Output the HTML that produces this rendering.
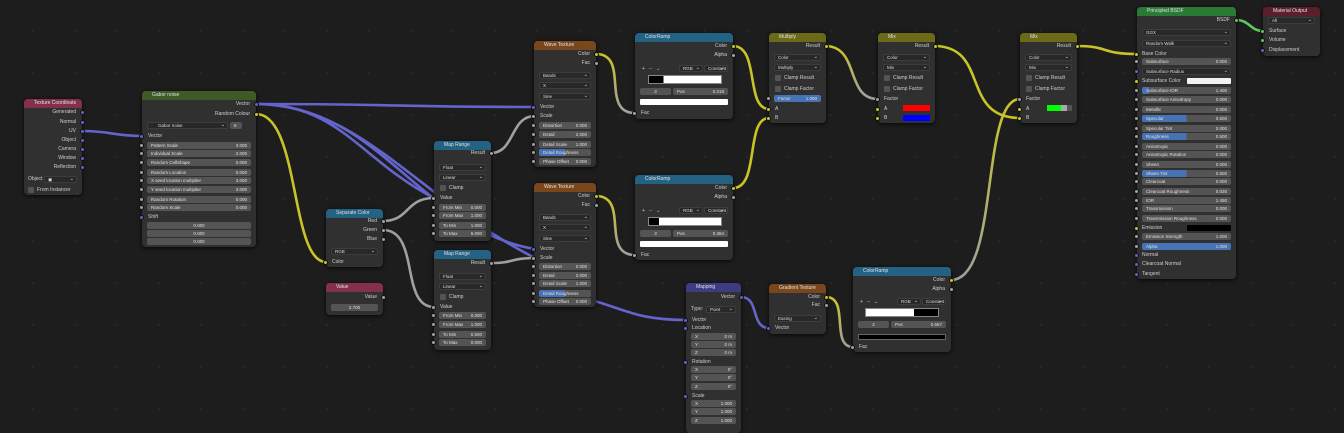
<!DOCTYPE html>
<html><head><meta charset="utf-8"><style>
*{margin:0;padding:0;box-sizing:border-box}
body{width:1344px;height:424px;overflow:hidden;background:#1d1d1d;font-family:"Liberation Sans",sans-serif;position:relative;
background-image:radial-gradient(#262626 1.2px,transparent 1.4px);background-size:42px 42px;background-position:12px 10px}
.n{position:absolute;background:#303030;border-radius:4px;box-shadow:0 1px 5px rgba(0,0,0,.8)}
.h{height:9px;border-radius:4px 4px 0 0;font-size:5px;color:#e0e0e0;padding-left:10px;line-height:9px;white-space:nowrap;overflow:hidden}
.t{position:absolute;font-size:5px;line-height:8px;color:#cfcfcf;white-space:nowrap}
.o{right:6px}.i{left:6px}
.f{position:absolute;left:5px;right:5px;height:7px;background:#545454;border-radius:2px;font-size:4.5px;line-height:7px;color:#e0e0e0;padding:0 4px;white-space:nowrap;overflow:hidden}
.f b{float:right;font-weight:normal}
.d{position:absolute;left:5px;right:5px;height:7px;background:#282828;border:0.5px solid #3d3d3d;border-radius:2px;font-size:4.5px;line-height:6px;color:#ddd;padding:0 3px}
.d:after{content:"⌄";position:absolute;right:2px;top:-1px;font-size:5px}
.c{position:absolute;left:6px;width:6px;height:6px;background:#545454;border-radius:1px}
.s{position:absolute;width:5px;height:5px;border-radius:50%;border:0.6px solid #111}
.g{background:#a1a1a1}.v{background:#6363c7}.y{background:#c7c729}.sh{background:#63c763}
.bl{background:linear-gradient(90deg,#4772b3 50%,#545454 50%)}
.bf{background:#4772b3}
svg{position:absolute;left:0;top:0}
</style></head><body>
<svg width="1344" height="424" fill="none" stroke-width="2.6" stroke-linecap="round">
<g stroke="#6464cc">
<path d="M82 131 C110 131 115 136 142 136"/>
<path d="M256 104 C400 104 400 107 535 107"/>
<path d="M256 104 C340 104 360 160 434 198"/>
<path d="M256 104 C360 104 420 200 535 258"/>
<path d="M256 104 C380 104 420 230 535 249"/>
<path d="M540 290 C620 300 620 320 686 320"/>
<path d="M741 297 C760 297 750 328 769 328"/>
</g>
<g stroke="#c8c428">
<path d="M256 114 C300 114 290 262 326 262"/>
<path d="M733 46 C760 46 745 109 769 109"/>
<path d="M733 188 C760 188 745 118 769 118"/>
<path d="M934 46 C990 46 960 118 1020 118"/>
<path d="M1076 46 C1110 46 1100 54 1137 54"/>
</g>
<defs>
<linearGradient id="yg" x1="0" y1="0" x2="0" y2="1"><stop offset="0" stop-color="#c8c428"/><stop offset="1" stop-color="#a0a0a0"/></linearGradient>
<linearGradient id="yg2" x1="0" y1="1" x2="0" y2="0"><stop offset="0" stop-color="#a0a0a0"/><stop offset="1" stop-color="#c8c428"/></linearGradient>
</defs>
<path stroke="url(#yg)" d="M596 54 C630 54 600 113 635 113"/>
<path stroke="url(#yg)" d="M596 196 C630 196 600 255 635 255"/>
<path stroke="url(#yg)" d="M825 46 C860 46 845 99 878 99"/>
<path stroke="url(#yg)" d="M826 297 C850 297 830 347 853 347"/>
<path stroke="url(#yg2)" d="M951 280 C1000 280 980 99 1020 99"/>
<g stroke="#a0a0a0">
<path d="M383 221 C410 221 405 198 434 198"/>
<path d="M383 230 C420 230 400 307 434 307"/>
<path d="M491 153 C515 153 510 116 535 116"/>
<path d="M491 263 C515 263 510 258 535 258"/>
</g>
<path stroke="#5fc75f" d="M1236 20 C1250 20 1250 31 1263 31"/>
</svg>

<!-- Texture Coordinate -->
<div class="n" style="left:24px;top:99px;width:58px;height:96px">
<div class="h" style="background:#83314a">Texture Coordinate</div>
<div class="t o" style="top:9px">Generated</div><div class="s v" style="right:-3px;top:11px"></div>
<div class="t o" style="top:19px">Normal</div><div class="s v" style="right:-3px;top:21px"></div>
<div class="t o" style="top:28px">UV</div><div class="s v" style="right:-3px;top:30px"></div>
<div class="t o" style="top:37px">Object</div><div class="s v" style="right:-3px;top:39px"></div>
<div class="t o" style="top:46px">Camera</div><div class="s v" style="right:-3px;top:48px"></div>
<div class="t o" style="top:55px">Window</div><div class="s v" style="right:-3px;top:57px"></div>
<div class="t o" style="top:64px">Reflection</div><div class="s v" style="right:-3px;top:66px"></div>
<div class="t i" style="top:76px;left:4px">Object</div><div class="d" style="left:20px;top:77px">▣</div>
<div class="c" style="top:88px;left:4px"></div><div class="t" style="top:87px;left:13px">From Instancer</div>
</div>

<!-- Gabor noise -->
<div class="n" style="left:142px;top:91px;width:114px;height:156px">
<div class="h" style="background:#3d5a27">Gabor noise</div>
<div class="t o" style="top:9px">Vector</div><div class="s v" style="right:-3px;top:11px"></div>
<div class="t o" style="top:19px">Random Colour</div><div class="s y" style="right:-3px;top:21px"></div>
<div class="d" style="top:31px;left:5px;right:28px;padding-left:10px">Gabor noise</div><div class="f" style="top:31px;left:88px;right:14px">6</div>
<div class="t i" style="top:41px">Vector</div><div class="s v" style="left:-3px;top:43px"></div>
<div class="f" style="top:51px">Pattern Scale<b>3.000</b></div><div class="s g" style="left:-3px;top:52px"></div>
<div class="f" style="top:59px">Individual Scale<b>2.000</b></div><div class="s g" style="left:-3px;top:60px"></div>
<div class="f" style="top:68px">Random CellShape<b>0.000</b></div><div class="s g" style="left:-3px;top:69px"></div>
<div class="f" style="top:78px">Random Location<b>0.000</b></div><div class="s g" style="left:-3px;top:79px"></div>
<div class="f" style="top:86px">X seed location multiplier<b>3.000</b></div><div class="s g" style="left:-3px;top:87px"></div>
<div class="f" style="top:95px">Y seed location multiplier<b>3.000</b></div><div class="s g" style="left:-3px;top:96px"></div>
<div class="f" style="top:105px">Random Rotation<b>0.000</b></div><div class="s g" style="left:-3px;top:106px"></div>
<div class="f" style="top:113px">Random Scale<b>0.000</b></div><div class="s g" style="left:-3px;top:114px"></div>
<div class="t i" style="top:122px">Shift</div><div class="s v" style="left:-3px;top:124px"></div>
<div class="f" style="top:131px;text-align:center">0.000</div>
<div class="f" style="top:139px;text-align:center">0.000</div>
<div class="f" style="top:147px;text-align:center">0.000</div>
</div>

<!-- Separate Color -->
<div class="n" style="left:326px;top:209px;width:57px;height:58px">
<div class="h" style="background:#246283">Separate Color</div>
<div class="t o" style="top:8px">Red</div><div class="s g" style="right:-3px;top:10px"></div>
<div class="t o" style="top:17px">Green</div><div class="s g" style="right:-3px;top:19px"></div>
<div class="t o" style="top:26px">Blue</div><div class="s g" style="right:-3px;top:28px"></div>
<div class="d" style="top:39px">RGB</div>
<div class="t i" style="top:49px">Color</div><div class="s y" style="left:-3px;top:51px"></div>
</div>

<!-- Value -->
<div class="n" style="left:326px;top:283px;width:57px;height:32px">
<div class="h" style="background:#83314a">Value</div>
<div class="t o" style="top:10px">Value</div><div class="s g" style="right:-3px;top:12px"></div>
<div class="f" style="top:21px;text-align:center">2.700</div>
</div>

<!-- Map Range 1 -->
<div class="n" style="left:434px;top:141px;width:57px;height:100px">
<div class="h" style="background:#246283">Map Range</div>
<div class="t o" style="top:8px">Result</div><div class="s g" style="right:-3px;top:10px"></div>
<div class="d" style="top:23px">Float</div><div class="d" style="top:33px">Linear</div>
<div class="c" style="top:44px"></div><div class="t" style="top:43px;left:15px">Clamp</div>
<div class="t i" style="top:53px">Value</div><div class="s g" style="left:-3px;top:55px"></div>
<div class="f" style="top:63px">From Min<b>0.000</b></div><div class="s g" style="left:-3px;top:64px"></div>
<div class="f" style="top:71px">From Max<b>1.000</b></div><div class="s g" style="left:-3px;top:72px"></div>
<div class="f" style="top:81px">To Min<b>1.000</b></div><div class="s g" style="left:-3px;top:82px"></div>
<div class="f" style="top:89px">To Max<b>6.000</b></div><div class="s g" style="left:-3px;top:90px"></div>
</div>

<!-- Map Range 2 -->
<div class="n" style="left:434px;top:250px;width:57px;height:100px">
<div class="h" style="background:#246283">Map Range</div>
<div class="t o" style="top:9px">Result</div><div class="s g" style="right:-3px;top:11px"></div>
<div class="d" style="top:23px">Float</div><div class="d" style="top:33px">Linear</div>
<div class="c" style="top:44px"></div><div class="t" style="top:43px;left:15px">Clamp</div>
<div class="t i" style="top:53px">Value</div><div class="s g" style="left:-3px;top:55px"></div>
<div class="f" style="top:62px">From Min<b>0.000</b></div><div class="s g" style="left:-3px;top:63px"></div>
<div class="f" style="top:71px">From Max<b>1.000</b></div><div class="s g" style="left:-3px;top:72px"></div>
<div class="f" style="top:81px">To Min<b>0.500</b></div><div class="s g" style="left:-3px;top:82px"></div>
<div class="f" style="top:89px">To Max<b>0.000</b></div><div class="s g" style="left:-3px;top:90px"></div>
</div>

<!-- Wave Texture 1 -->
<div class="n" style="left:534px;top:41px;width:62px;height:126px">
<div class="h" style="background:#7a461c">Wave Texture</div>
<div class="t o" style="top:9px">Color</div><div class="s y" style="right:-3px;top:11px"></div>
<div class="t o" style="top:18px">Fac</div><div class="s g" style="right:-3px;top:20px"></div>
<div class="d" style="top:31px">Bands</div><div class="d" style="top:41px">X</div><div class="d" style="top:52px">Sine</div>
<div class="t i" style="top:62px">Vector</div><div class="s v" style="left:-3px;top:64px"></div>
<div class="t i" style="top:71px">Scale</div><div class="s g" style="left:-3px;top:73px"></div>
<div class="f" style="top:81px">Distortion<b>0.000</b></div><div class="s g" style="left:-3px;top:82px"></div>
<div class="f" style="top:90px">Detail<b>2.000</b></div><div class="s g" style="left:-3px;top:91px"></div>
<div class="f" style="top:100px">Detail Scale<b>1.000</b></div><div class="s g" style="left:-3px;top:101px"></div>
<div class="f bl" style="top:108px">Detail Roughness<b>0.500</b></div><div class="s g" style="left:-3px;top:109px"></div>
<div class="f" style="top:117px">Phase Offset<b>0.000</b></div><div class="s g" style="left:-3px;top:118px"></div>
</div>

<!-- Wave Texture 2 -->
<div class="n" style="left:534px;top:183px;width:62px;height:124px">
<div class="h" style="background:#7a461c">Wave Texture</div>
<div class="t o" style="top:9px">Color</div><div class="s y" style="right:-3px;top:11px"></div>
<div class="t o" style="top:18px">Fac</div><div class="s g" style="right:-3px;top:20px"></div>
<div class="d" style="top:31px">Bands</div><div class="d" style="top:41px">X</div><div class="d" style="top:52px">Sine</div>
<div class="t i" style="top:62px">Vector</div><div class="s v" style="left:-3px;top:64px"></div>
<div class="t i" style="top:71px">Scale</div><div class="s g" style="left:-3px;top:73px"></div>
<div class="f" style="top:80px">Distortion<b>0.000</b></div><div class="s g" style="left:-3px;top:81px"></div>
<div class="f" style="top:89px">Detail<b>2.000</b></div><div class="s g" style="left:-3px;top:90px"></div>
<div class="f" style="top:97px">Detail Scale<b>1.000</b></div><div class="s g" style="left:-3px;top:98px"></div>
<div class="f bl" style="top:107px">Detail Roughness<b>0.500</b></div><div class="s g" style="left:-3px;top:108px"></div>
<div class="f" style="top:115px">Phase Offset<b>0.000</b></div><div class="s g" style="left:-3px;top:116px"></div>
</div>

<!-- ColorRamp 1 -->
<div class="n" style="left:635px;top:33px;width:98px;height:86px">
<div class="h" style="background:#246283">ColorRamp</div>
<div class="t o" style="top:9px">Color</div><div class="s y" style="right:-3px;top:11px"></div>
<div class="t o" style="top:18px">Alpha</div><div class="s g" style="right:-3px;top:20px"></div>
<div class="t" style="top:32px;left:7px">+ &nbsp; − &nbsp; ⌄</div>
<div class="d" style="top:32px;left:44px;right:30px">RGB</div><div class="d" style="top:32px;left:69px;right:5px">Constant</div>
<div style="position:absolute;left:13px;top:42px;width:74px;height:9px;background:linear-gradient(90deg,#000 20%,#fff 20%);border:0.5px solid #888"></div>
<div class="f" style="top:55px;left:5px;right:62px;text-align:center">3</div><div class="f" style="top:55px;left:38px">Pos<b>0.218</b></div>
<div style="position:absolute;left:5px;right:5px;top:66px;height:6px;background:#fff;border-radius:1px"></div>
<div class="t i" style="top:76px">Fac</div><div class="s g" style="left:-3px;top:78px"></div>
</div>

<!-- ColorRamp 2 -->
<div class="n" style="left:635px;top:175px;width:98px;height:85px">
<div class="h" style="background:#246283">ColorRamp</div>
<div class="t o" style="top:9px">Color</div><div class="s y" style="right:-3px;top:11px"></div>
<div class="t o" style="top:18px">Alpha</div><div class="s g" style="right:-3px;top:20px"></div>
<div class="t" style="top:32px;left:7px">+ &nbsp; − &nbsp; ⌄</div>
<div class="d" style="top:32px;left:44px;right:30px">RGB</div><div class="d" style="top:32px;left:69px;right:5px">Constant</div>
<div style="position:absolute;left:13px;top:42px;width:74px;height:9px;background:linear-gradient(90deg,#000 14%,#fff 14%);border:0.5px solid #888"></div>
<div class="f" style="top:55px;left:5px;right:62px;text-align:center">3</div><div class="f" style="top:55px;left:38px">Pos<b>0.364</b></div>
<div style="position:absolute;left:5px;right:5px;top:66px;height:6px;background:#fff;border-radius:1px"></div>
<div class="t i" style="top:76px">Fac</div><div class="s g" style="left:-3px;top:78px"></div>
</div>

<!-- Multiply -->
<div class="n" style="left:769px;top:33px;width:57px;height:90px">
<div class="h" style="background:#6b6a18">Multiply</div>
<div class="t o" style="top:9px">Result</div><div class="s y" style="right:-3px;top:11px"></div>
<div class="d" style="top:21px">Color</div><div class="d" style="top:31px">Multiply</div>
<div class="c" style="top:42px"></div><div class="t" style="top:41px;left:15px">Clamp Result</div>
<div class="c" style="top:53px"></div><div class="t" style="top:52px;left:15px">Clamp Factor</div>
<div class="f bf" style="top:62px">Factor<b>1.000</b></div><div class="s g" style="left:-3px;top:63px"></div>
<div class="t i" style="top:72px">A</div><div class="s y" style="left:-3px;top:74px"></div>
<div class="t i" style="top:81px">B</div><div class="s y" style="left:-3px;top:83px"></div>
</div>

<!-- Mix 2 -->
<div class="n" style="left:878px;top:33px;width:57px;height:90px">
<div class="h" style="background:#6b6a18">Mix</div>
<div class="t o" style="top:9px">Result</div><div class="s y" style="right:-3px;top:11px"></div>
<div class="d" style="top:21px">Color</div><div class="d" style="top:31px">Mix</div>
<div class="c" style="top:42px"></div><div class="t" style="top:41px;left:15px">Clamp Result</div>
<div class="c" style="top:53px"></div><div class="t" style="top:52px;left:15px">Clamp Factor</div>
<div class="t i" style="top:62px">Factor</div><div class="s g" style="left:-3px;top:64px"></div>
<div class="t i" style="top:72px">A</div><div class="s y" style="left:-3px;top:74px"></div><div style="position:absolute;left:25px;top:72px;width:27px;height:6px;background:#f00"></div>
<div class="t i" style="top:81px">B</div><div class="s y" style="left:-3px;top:83px"></div><div style="position:absolute;left:25px;top:82px;width:27px;height:6px;background:#00f"></div>
</div>

<!-- Mix 3 -->
<div class="n" style="left:1020px;top:33px;width:57px;height:90px">
<div class="h" style="background:#6b6a18">Mix</div>
<div class="t o" style="top:9px">Result</div><div class="s y" style="right:-3px;top:11px"></div>
<div class="d" style="top:21px">Color</div><div class="d" style="top:31px">Mix</div>
<div class="c" style="top:42px"></div><div class="t" style="top:41px;left:15px">Clamp Result</div>
<div class="c" style="top:53px"></div><div class="t" style="top:52px;left:15px">Clamp Factor</div>
<div class="t i" style="top:62px">Factor</div><div class="s g" style="left:-3px;top:64px"></div>
<div class="t i" style="top:72px">A</div><div class="s y" style="left:-3px;top:74px"></div><div style="position:absolute;left:27px;top:72px;width:25px;height:6px;background:linear-gradient(90deg,#0f0 55%,#aaa 55%,#aaa 80%,#555 80%)"></div>
<div class="t i" style="top:81px">B</div><div class="s y" style="left:-3px;top:83px"></div>
</div>

<!-- Mapping -->
<div class="n" style="left:686px;top:283px;width:55px;height:150px">
<div class="h" style="background:#3c3c83">Mapping</div>
<div class="t o" style="top:10px">Vector</div><div class="s v" style="right:-3px;top:12px"></div>
<div class="t" style="top:22px;left:5px">Type:</div><div class="d" style="top:23px;left:20px">Point</div>
<div class="t i" style="top:33px">Vector</div><div class="s v" style="left:-3px;top:35px"></div>
<div class="t i" style="top:41px">Location</div><div class="s v" style="left:-3px;top:43px"></div>
<div class="f" style="top:50px">X<b>0 m</b></div><div class="f" style="top:58px">Y<b>0 m</b></div><div class="f" style="top:66px">Z<b>0 m</b></div>
<div class="t i" style="top:75px">Rotation</div><div class="s v" style="left:-3px;top:77px"></div>
<div class="f" style="top:83px">X<b>0°</b></div><div class="f" style="top:91px">Y<b>0°</b></div><div class="f" style="top:100px">Z<b>0°</b></div>
<div class="t i" style="top:109px">Scale</div><div class="s v" style="left:-3px;top:111px"></div>
<div class="f" style="top:117px">X<b>1.000</b></div><div class="f" style="top:125px">Y<b>1.000</b></div><div class="f" style="top:134px">Z<b>1.000</b></div>
</div>

<!-- Gradient Texture -->
<div class="n" style="left:769px;top:284px;width:57px;height:50px">
<div class="h" style="background:#7a461c">Gradient Texture</div>
<div class="t o" style="top:9px">Color</div><div class="s y" style="right:-3px;top:11px"></div>
<div class="t o" style="top:17px">Fac</div><div class="s g" style="right:-3px;top:19px"></div>
<div class="d" style="top:31px">Easing</div>
<div class="t i" style="top:40px">Vector</div><div class="s v" style="left:-3px;top:42px"></div>
</div>

<!-- ColorRamp 3 -->
<div class="n" style="left:853px;top:267px;width:98px;height:85px">
<div class="h" style="background:#246283">ColorRamp</div>
<div class="t o" style="top:9px">Color</div><div class="s y" style="right:-3px;top:11px"></div>
<div class="t o" style="top:18px">Alpha</div><div class="s g" style="right:-3px;top:20px"></div>
<div class="t" style="top:31px;left:7px">+ &nbsp; − &nbsp; ⌄</div>
<div class="d" style="top:31px;left:44px;right:30px">RGB</div><div class="d" style="top:31px;left:69px;right:5px">Constant</div>
<div style="position:absolute;left:12px;top:41px;width:74px;height:9px;background:linear-gradient(90deg,#fff 67%,#000 67%);border:0.5px solid #888"></div>
<div class="f" style="top:54px;left:5px;right:62px;text-align:center">2</div><div class="f" style="top:54px;left:38px">Pos<b>0.667</b></div>
<div style="position:absolute;left:5px;right:5px;top:67px;height:6px;background:#000;border:0.5px solid #666;border-radius:1px"></div>
<div class="t i" style="top:76px">Fac</div><div class="s g" style="left:-3px;top:78px"></div>
</div>

<!-- Principled BSDF -->
<div class="n" style="left:1137px;top:7px;width:99px;height:272px">
<div class="h" style="background:#2a7a36">Principled BSDF</div>
<div class="t o" style="top:9px">BSDF</div><div class="s sh" style="right:-3px;top:11px"></div>
<div class="d" style="top:22px">GGX</div><div class="d" style="top:33px">Random Walk</div>
<div class="t i" style="top:43px;left:5px">Base Color</div><div class="s y" style="left:-3px;top:45px"></div>
<div class="f" style="top:51px">Subsurface<b>0.000</b></div><div class="s g" style="left:-3px;top:52px"></div>
<div class="d" style="top:61px">Subsurface Radius</div><div class="s v" style="left:-3px;top:62px"></div>
<div class="t i" style="top:70px;left:5px">Subsurface Color</div><div class="s y" style="left:-3px;top:72px"></div><div style="position:absolute;left:50px;right:5px;top:71px;height:6px;background:#f2f2f2;border-radius:1px"></div>
<div class="f" style="top:80px;background:linear-gradient(90deg,#4772b3 8%,#545454 8%)">Subsurface IOR<b>1.400</b></div><div class="s g" style="left:-3px;top:81px"></div>
<div class="f" style="top:89px">Subsurface Anisotropy<b>0.000</b></div><div class="s g" style="left:-3px;top:90px"></div>
<div class="f" style="top:99px">Metallic<b>0.000</b></div><div class="s g" style="left:-3px;top:100px"></div>
<div class="f bl" style="top:108px">Specular<b>0.500</b></div><div class="s g" style="left:-3px;top:109px"></div>
<div class="f" style="top:118px">Specular Tint<b>0.000</b></div><div class="s g" style="left:-3px;top:119px"></div>
<div class="f bl" style="top:126px">Roughness<b>0.500</b></div><div class="s g" style="left:-3px;top:127px"></div>
<div class="f" style="top:136px">Anisotropic<b>0.000</b></div><div class="s g" style="left:-3px;top:137px"></div>
<div class="f" style="top:144px">Anisotropic Rotation<b>0.000</b></div><div class="s g" style="left:-3px;top:145px"></div>
<div class="f" style="top:154px">Sheen<b>0.000</b></div><div class="s g" style="left:-3px;top:155px"></div>
<div class="f bl" style="top:163px">Sheen Tint<b>0.500</b></div><div class="s g" style="left:-3px;top:164px"></div>
<div class="f" style="top:171px">Clearcoat<b>0.000</b></div><div class="s g" style="left:-3px;top:172px"></div>
<div class="f" style="top:181px">Clearcoat Roughness<b>0.030</b></div><div class="s g" style="left:-3px;top:182px"></div>
<div class="f" style="top:190px">IOR<b>1.450</b></div><div class="s g" style="left:-3px;top:191px"></div>
<div class="f" style="top:198px">Transmission<b>0.000</b></div><div class="s g" style="left:-3px;top:199px"></div>
<div class="f" style="top:208px">Transmission Roughness<b>0.000</b></div><div class="s g" style="left:-3px;top:209px"></div>
<div class="t i" style="top:217px;left:5px">Emission</div><div class="s y" style="left:-3px;top:219px"></div><div style="position:absolute;left:50px;right:5px;top:218px;height:6px;background:#000;border-radius:1px"></div>
<div class="f" style="top:226px">Emission Strength<b>1.000</b></div><div class="s g" style="left:-3px;top:227px"></div>
<div class="f bf" style="top:236px">Alpha<b>1.000</b></div><div class="s g" style="left:-3px;top:237px"></div>
<div class="t i" style="top:244px;left:5px">Normal</div><div class="s v" style="left:-3px;top:246px"></div>
<div class="t i" style="top:253px;left:5px">Clearcoat Normal</div><div class="s v" style="left:-3px;top:255px"></div>
<div class="t i" style="top:263px;left:5px">Tangent</div><div class="s v" style="left:-3px;top:265px"></div>
</div>

<!-- Material Output -->
<div class="n" style="left:1263px;top:7px;width:57px;height:49px">
<div class="h" style="background:#5a1f2b">Material Output</div>
<div class="d" style="top:10px">All</div>
<div class="t i" style="top:20px">Surface</div><div class="s sh" style="left:-3px;top:22px"></div>
<div class="t i" style="top:29px">Volume</div><div class="s sh" style="left:-3px;top:31px"></div>
<div class="t i" style="top:39px">Displacement</div><div class="s v" style="left:-3px;top:41px"></div>
</div>
</body></html>
